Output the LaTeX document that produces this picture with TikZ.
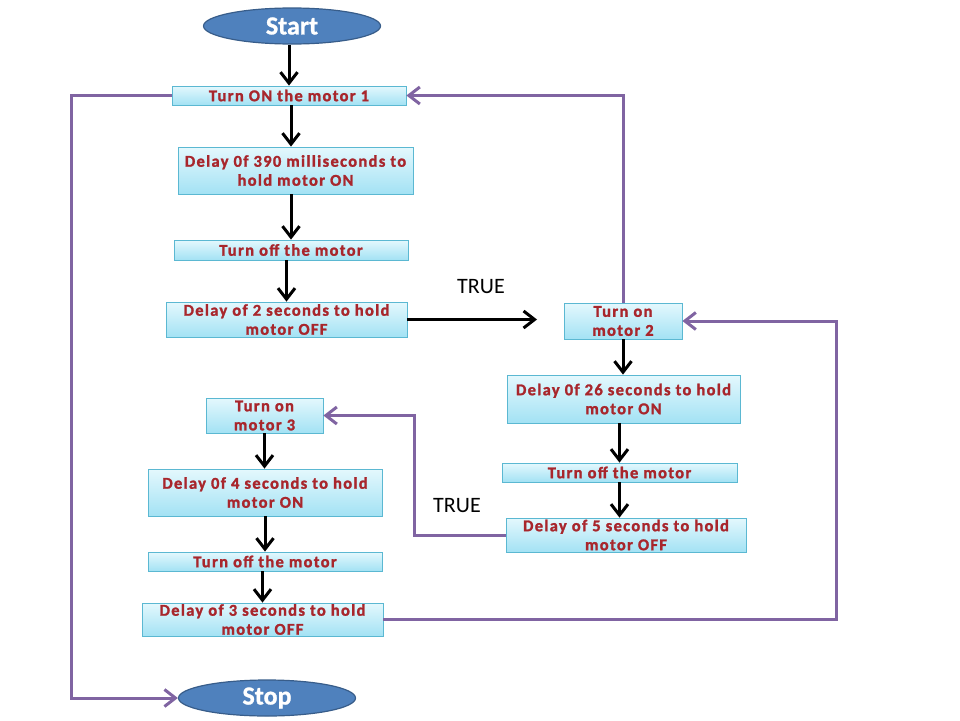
\documentclass[tikz,border=0pt]{standalone}
\usepackage{fontspec}
\setmainfont{Carlito}
\newfontfamily\boxfont[LetterSpace=8, FakeBold=1.5]{Carlito}
\newfontfamily\termfont[FakeBold=1]{Carlito}
\usepackage{tikz}
\usetikzlibrary{positioning, arrows.meta, calc, shapes.geometric}
\definecolor{boxtop}{HTML}{E4F8FD}
\definecolor{boxbottom}{HTML}{A3E2F4}
\definecolor{boxline}{HTML}{5BB8D2}
\definecolor{boxtext}{HTML}{A8262C}
\definecolor{termfill}{HTML}{4F81BD}
\definecolor{termline}{HTML}{385D8A}
\definecolor{backcolor}{HTML}{8064A2}

\begin{document}
\begin{tikzpicture}[ x = 1pt, y = -1pt
                     , font = \boxfont\bfseries\fontsize{16.5}{19}\selectfont
                     , >={Straight Barb[length=11pt, width=17pt]}
                     , box/.style = { rectangle
                                    , draw = boxline
                                    , line width = 0.8pt
                                    , top color = boxtop
                                    , bottom color = boxbottom
                                    , text = boxtext
                                    , align = center
                                    , inner sep = 0pt }
                     , term/.style = { ellipse
                                     , draw = termline
                                     , line width = 1.2pt
                                     , fill = termfill
                                     , text = white
                                     , inner sep = 0pt
                                     , minimum width = 177pt
                                     , minimum height = 36pt
                                     , font = \termfont\bfseries\fontsize{26}{28}\selectfont }
                     , flowline/.style = { ->, line width = 3pt, black }
                     , backline/.style = { ->, line width = 3pt, draw = backcolor }
                     , truelabel/.style = { font = \fontsize{22}{26}\selectfont }
                     ]

  \useasboundingbox (0,0) rectangle (960,720);

  \node (start) [term] at (292,26) {Start};

  % motor 1
  \node (on1) [box, minimum width = 234pt, minimum height = 19pt] at (289,95.5)
    {Turn ON the motor 1};
  \node (hold1) [box, minimum width = 235pt, minimum height = 47pt] at (295.5,170.5)
    {Delay 0f 390 milliseconds to\\ hold motor ON};
  \node (off1) [box, minimum width = 234pt, minimum height = 20pt] at (291,250)
    {Turn off the motor};
  \node (wait1) [box, minimum width = 241pt, minimum height = 35pt] at (286.5,319.5)
    {Delay of 2 seconds to hold\\ motor OFF};

  % motor 2
  \node (on2) [box, minimum width = 118pt, minimum height = 36pt] at (623,321)
    {Turn on\\ motor 2};
  \node (hold2) [box, minimum width = 233pt, minimum height = 48pt] at (623.5,399)
    {Delay 0f 26 seconds to hold\\ motor ON};
  \node (off2) [box, minimum width = 235pt, minimum height = 19pt] at (619.5,472.5)
    {Turn off the motor};
  \node (wait2) [box, minimum width = 240pt, minimum height = 34pt] at (626,535)
    {Delay of 5 seconds to hold\\ motor OFF};

  % motor 3
  \node (on3) [box, minimum width = 117pt, minimum height = 35pt] at (264.5,415.5)
    {Turn on\\ motor 3};
  \node (hold3) [box, minimum width = 234pt, minimum height = 47pt] at (265,492.5)
    {Delay 0f 4 seconds to hold\\ motor ON};
  \node (off3) [box, minimum width = 234pt, minimum height = 19pt] at (265,561.5)
    {Turn off the motor};
  \node (wait3) [box, minimum width = 241pt, minimum height = 33pt] at (262.5,619.5)
    {Delay of 3 seconds to hold\\ motor OFF};

  \node (stop) [term] at (267,698) {Stop};

  \node (true1) [truelabel] at (481,287) {TRUE};
  \node (true2) [truelabel] at (457,506) {TRUE};
  \coordinate (jump) at (537,319.5);

  \draw[flowline] (start.south -| on1) -- (on1.north);
  \draw[flowline] (on1.south -| off1) -- (off1.north |- hold1.north);
  \draw[flowline] (hold1.south -| off1) -- (off1.north);
  \draw[flowline] (off1.south -| wait1) -- (wait1.north);
  \draw[flowline] (wait1.east) -- (jump);

  \draw[flowline] (on2.south) -- (on2.south |- hold2.north);
  \draw[flowline] (hold2.south -| off2) -- (off2.north);
  \draw[flowline] (off2.south) -- (off2.south |- wait2.north);

  \draw[flowline] (on3.south) -- (on3.south |- hold3.north);
  \draw[flowline] (hold3.south -| off3) -- (off3.north);
  \draw[flowline] (off3.south -| wait3) -- (wait3.north);

  \draw[backline] (on1.west) -- ++(-100,0) |- (stop.west);
  \draw[backline] (on2.north) |- (on1.east);
  \draw[backline] (wait3.east) -- ++(453,0) |- (on2.east);
  \draw[backline] (wait2.west) -- ++(-91,0) |- (on3.east);

\end{tikzpicture}
\end{document}
